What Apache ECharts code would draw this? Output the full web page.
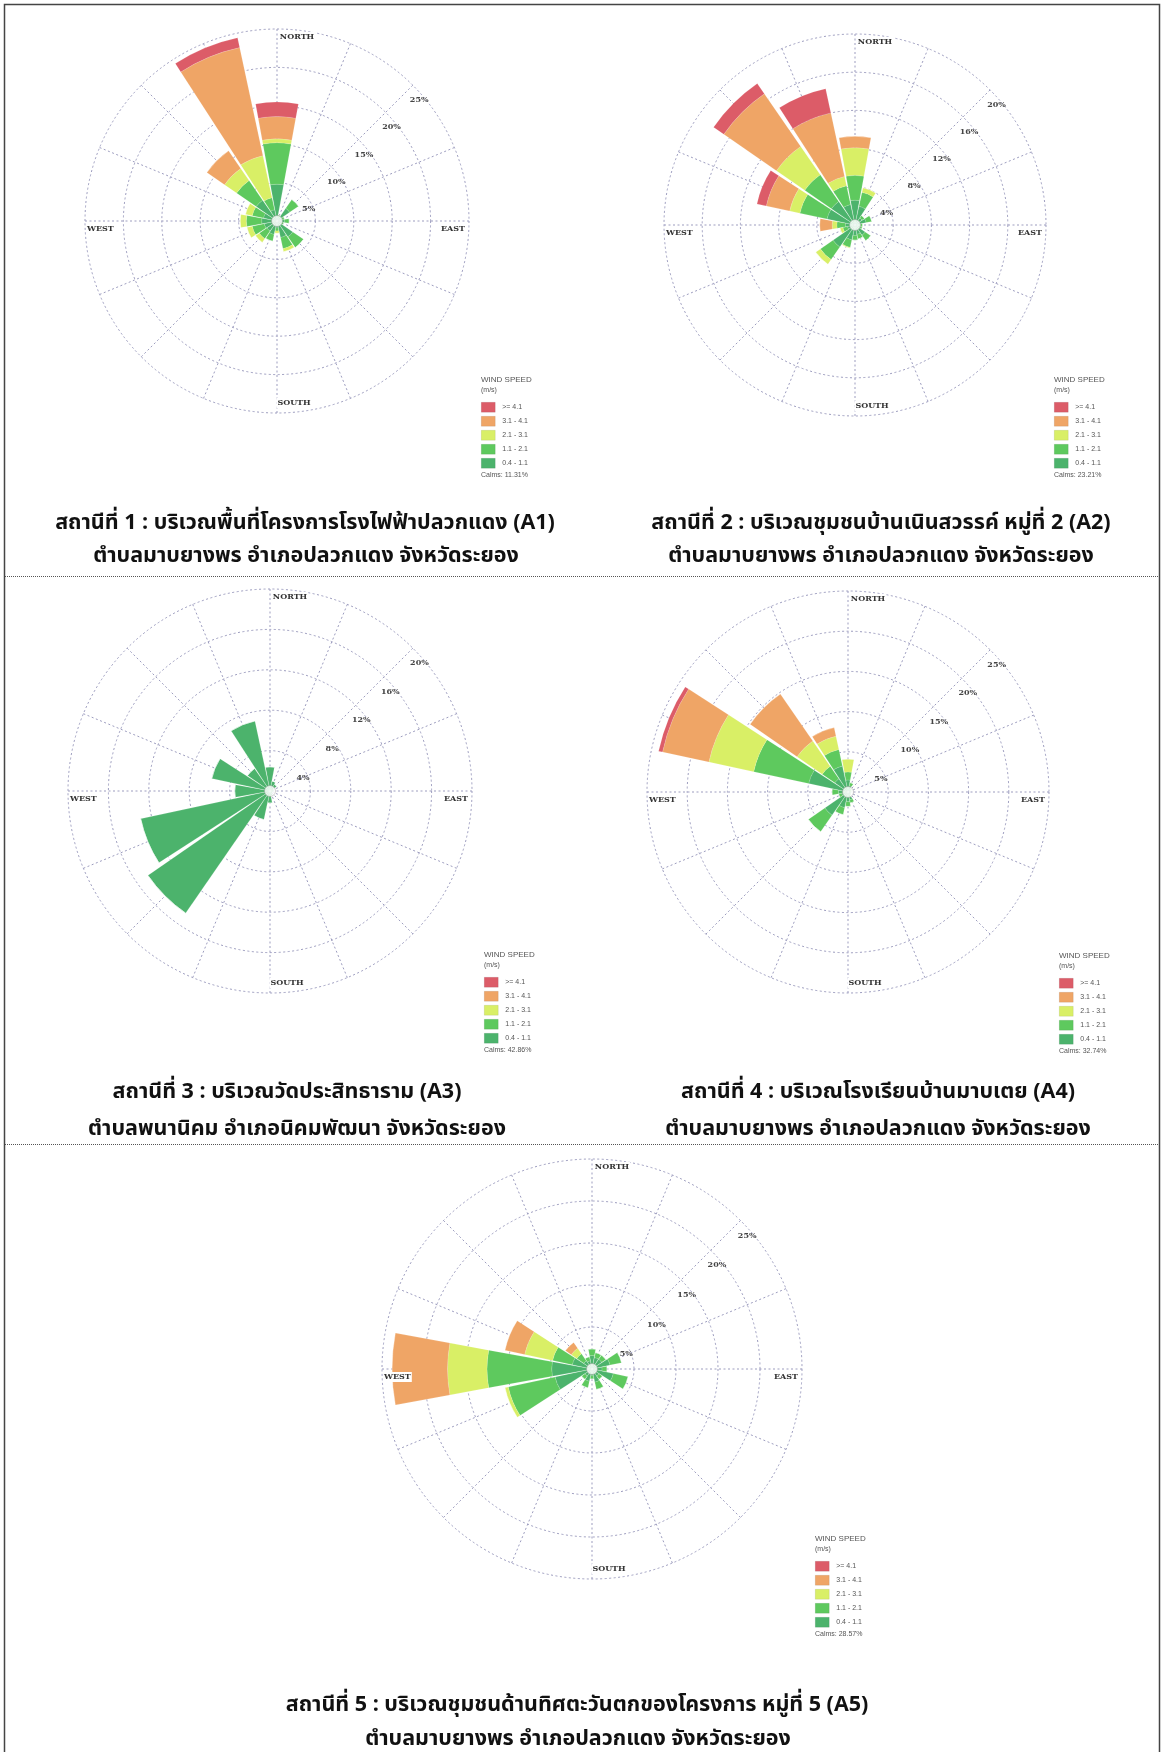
<!DOCTYPE html>
<html>
<head>
<meta charset="utf-8">
<script src="https://cdn.jsdelivr.net/npm/echarts@6/dist/echarts.min.js"></script>
<style>
  html, body { margin: 0; padding: 0; background: #ffffff; }
  #chart { width: 1164px; height: 1752px; }
</style>
</head>
<body>
<div id="chart"></div>
<script>
// Wind directions, clockwise from north
const directions = ['N','NNE','NE','ENE','E','ESE','SE','SSE','S','SSW','SW','WSW','W','WNW','NW','NNW'];

// Wind speed classes (m/s), innermost first
const speedClasses = ['0.4 - 1.1', '1.1 - 2.1', '2.1 - 3.1', '3.1 - 4.1', '>= 4.1'];
const legendOrder = ['>= 4.1', '3.1 - 4.1', '2.1 - 3.1', '1.1 - 2.1', '0.4 - 1.1'];
const speedColors = ['#4cb36c', '#5ec95e', '#d9ef66', '#efa566', '#dc5c68'];

// Frequency (%) per direction, one array per speed class
// Station A1
const a1_04_11 = [4.8, 0.6, 2.0, 0.7, 1.0, 0.6, 2.5, 2.2, 0.9, 1.8, 1.6, 1.7, 2.0, 1.8, 3.3, 1.5];
const a1_11_21 = [5.4, 0.2, 1.4, 0.3, 0.6, 0.3, 1.7, 1.5, 0.4, 0.9, 1.2, 1.6, 2.0, 1.5, 3.1, 1.6];
const a1_21_31 = [0.5, 0, 0, 0, 0, 0, 0, 0.4, 0.3, 0, 0.6, 0.7, 0.8, 0.9, 1.9, 5.6];
const a1_31_41 = [2.9, 0, 0, 0, 0, 0, 0, 0, 0, 0, 0, 0, 0, 0, 2.8, 14.4];
const a1_41 = [1.9, 0, 0, 0, 0, 0, 0, 0, 0, 0, 0, 0, 0, 0, 0, 1.3];

// Station A2
const a2_04_11 = [2.6, 2.0, 0.9, 1.2, 0.6, 0.6, 1.3, 1.0, 1.1, 1.6, 2.8, 0.8, 1.0, 3.0, 3.0, 2.2];
const a2_11_21 = [2.6, 1.5, 0.3, 0.6, 0.2, 0.2, 0.7, 0.5, 0.5, 0.8, 1.6, 0.5, 0.9, 2.9, 3.4, 2.0];
const a2_21_31 = [2.9, 0.5, 0, 0, 0, 0, 0, 0, 0, 0.1, 0.6, 0.3, 0.5, 1.1, 3.6, 1.0];
const a2_31_41 = [1.2, 0, 0, 0, 0, 0, 0, 0, 0, 0, 0, 0, 1.3, 2.5, 6.7, 6.8];
const a2_41 = [0, 0, 0, 0, 0, 0, 0, 0, 0, 0, 0, 0, 0, 1.0, 1.3, 2.6];

// Station A3
const a3_04_11 = [2.4, 1.0, 0.8, 0.4, 0.4, 0.3, 0.3, 0.5, 1.2, 2.9, 14.7, 13.1, 3.5, 5.9, 2.7, 7.1];
const a3_11_21 = [0, 0, 0, 0, 0, 0, 0, 0, 0, 0, 0, 0, 0, 0, 0, 0];
const a3_21_31 = [0, 0, 0, 0, 0, 0, 0, 0, 0, 0, 0, 0, 0, 0, 0, 0];
const a3_31_41 = [0, 0, 0, 0, 0, 0, 0, 0, 0, 0, 0, 0, 0, 0, 0, 0];
const a3_41 = [0, 0, 0, 0, 0, 0, 0, 0, 0, 0, 0, 0, 0, 0, 0, 0];

// Station A4
const a4_04_11 = [1.5, 0.8, 0.4, 0.3, 0.3, 0.3, 0.4, 1.0, 1.2, 2.0, 3.5, 0.8, 1.2, 5.0, 2.0, 3.3];
const a4_11_21 = [1.0, 0.4, 0.2, 0.2, 0.1, 0.1, 0.1, 0.4, 0.6, 0.9, 2.5, 0.4, 0.8, 7.0, 1.9, 2.1];
const a4_21_31 = [1.6, 0, 0, 0, 0, 0, 0, 0, 0, 0, 0, 0, 0, 5.7, 3.8, 1.7];
const a4_31_41 = [0, 0, 0, 0, 0, 0, 0, 0, 0, 0, 0, 0, 0, 5.9, 7.1, 1.1];
const a4_41 = [0, 0, 0, 0, 0, 0, 0, 0, 0, 0, 0, 0, 0, 0.5, 0, 0];

// Station A5
const a5_04_11 = [1.6, 1.4, 1.4, 2.2, 1.2, 2.6, 1.0, 1.6, 0.8, 1.5, 1.0, 4.5, 4.8, 2.4, 1.2, 1.0];
const a5_11_21 = [0.8, 0.6, 0.6, 1.4, 0.6, 1.8, 0.5, 0.9, 0.4, 0.8, 0.5, 5.7, 7.7, 2.4, 1.0, 0.5];
const a5_21_31 = [0, 0, 0, 0, 0, 0, 0, 0, 0, 0, 0, 0.4, 4.7, 3.4, 0.8, 0];
const a5_31_41 = [0, 0, 0, 0, 0, 0, 0, 0, 0, 0, 0, 0, 6.6, 2.4, 0.85, 0];
const a5_41 = [0, 0, 0, 0, 0, 0, 0, 0, 0, 0, 0, 0, 0, 0, 0, 0];

// Calm percentages
const calms = ['11.31%', '23.21%', '42.86%', '32.74%', '28.57%'];

// Ring tick labels
const ticks5 = ['5%', '10%', '15%', '20%', '25%'];
const ticks4 = ['4%', '8%', '12%', '16%', '20%'];

// Station captions
const captionLine1 = [
  'สถานีที่ 1 : บริเวณพื้นที่โครงการโรงไฟฟ้าปลวกแดง (A1)',
  'สถานีที่ 2 : บริเวณชุมชนบ้านเนินสวรรค์ หมู่ที่ 2 (A2)',
  'สถานีที่ 3 : บริเวณวัดประสิทธาราม (A3)',
  'สถานีที่ 4 : บริเวณโรงเรียนบ้านมาบเตย (A4)',
  'สถานีที่ 5 : บริเวณชุมชนด้านทิศตะวันตกของโครงการ หมู่ที่ 5 (A5)'
];
const captionLine2 = [
  'ตำบลมาบยางพร อำเภอปลวกแดง จังหวัดระยอง',
  'ตำบลมาบยางพร อำเภอปลวกแดง จังหวัดระยอง',
  'ตำบลพนานิคม อำเภอนิคมพัฒนา จังหวัดระยอง',
  'ตำบลมาบยางพร อำเภอปลวกแดง จังหวัดระยอง',
  'ตำบลมาบยางพร อำเภอปลวกแดง จังหวัดระยอง'
];
const cardinalNames = ['NORTH', 'SOUTH', 'WEST', 'EAST'];

// Layout of each rose: centre, outer radius, legend anchor, caption placement
const stations = [
  { series: [a1_04_11, a1_11_21, a1_21_31, a1_31_41, a1_41], max: 25, step: 5, ticks: ticks5,
    center: [277, 221], R: 192, legend: [481, 380], cap1: [305, 525], cap2: [306, 558] },
  { series: [a2_04_11, a2_11_21, a2_21_31, a2_31_41, a2_41], max: 20, step: 4, ticks: ticks4,
    center: [855, 225], R: 191, legend: [1054, 380], cap1: [881, 525], cap2: [881, 558] },
  { series: [a3_04_11, a3_11_21, a3_21_31, a3_31_41, a3_41], max: 20, step: 4, ticks: ticks4,
    center: [270, 791], R: 202, legend: [484, 955], cap1: [287, 1094], cap2: [297, 1131] },
  { series: [a4_04_11, a4_11_21, a4_21_31, a4_31_41, a4_41], max: 25, step: 5, ticks: ticks5,
    center: [848, 792], R: 201, legend: [1059, 956], cap1: [878, 1094], cap2: [878, 1131] },
  { series: [a5_04_11, a5_11_21, a5_21_31, a5_31_41, a5_41], max: 25, step: 5, ticks: ticks5,
    center: [592, 1369], R: 210, legend: [815, 1539], cap1: [577, 1707], cap2: [578, 1741] }
];

const gridColor = '#9d9dbf';
const gridDash = [2, 2.5];
const serifFont = '"DejaVu Serif", serif';
const sansFont = '"Liberation Sans", Arial, sans-serif';
const thaiFont = '"Noto Sans Thai", "Noto Sans Thai UI", "Noto Sans", Tahoma, sans-serif';

const polar = [], angleAxis = [], radiusAxis = [], series = [], legend = [], graphic = [];

function txt(x, y, text, size, opts) {
  const o = opts || {};
  return {
    type: 'text', x: x, y: y, z: o.z || 20, silent: true,
    style: {
      text: text,
      fill: o.color || '#444',
      fontSize: size,
      fontWeight: o.weight || 'normal',
      fontFamily: o.family || sansFont,
      align: o.align || 'left',
      verticalAlign: o.valign || 'middle',
      textAlign: o.align || 'left',
      textVerticalAlign: o.valign || 'middle',
      backgroundColor: o.bg,
      padding: o.pad
    }
  };
}

const hidden = { axisLine: { show: false }, axisTick: { show: false }, axisLabel: { show: false } };

stations.forEach(function (s, i) {
  const cx = s.center[0], cy = s.center[1], R = s.R;
  const barPolar = 2 * i, gridPolar = 2 * i + 1;

  // polar for the petals: one band of 22.5° per direction, centred on the direction
  polar.push({ center: s.center, radius: R, z: 3 });
  angleAxis.push(Object.assign({
    polarIndex: barPolar, type: 'category', data: directions,
    startAngle: 90 + 360 / directions.length / 2, clockwise: true, boundaryGap: true,
    splitLine: { show: false }
  }, hidden));
  radiusAxis.push(Object.assign({
    polarIndex: barPolar, type: 'value', min: 0, max: s.max, splitLine: { show: false }
  }, hidden));

  // polar for the dashed grid: spokes through each direction and rings per tick
  polar.push({ center: s.center, radius: R, z: 0 });
  angleAxis.push(Object.assign({
    polarIndex: gridPolar, type: 'value', min: 0, max: 360, interval: 360 / directions.length,
    startAngle: 90, clockwise: true, z: 0,
    splitLine: { show: true, lineStyle: { color: gridColor, type: gridDash, width: 1 } }
  }, hidden));
  radiusAxis.push(Object.assign({
    polarIndex: gridPolar, type: 'value', min: 0, max: s.max, interval: s.step, z: 0,
    splitLine: { show: true, lineStyle: { color: gridColor, type: gridDash, width: 1 } }
  }, hidden));

  s.series.forEach(function (vals, k) {
    series.push({
      type: 'bar', coordinateSystem: 'polar', polarIndex: barPolar, name: speedClasses[k],
      stack: 'rose' + i, data: vals, barCategoryGap: '8%', silent: true, z: 3,
      itemStyle: { color: speedColors[k], borderColor: 'rgba(255,255,255,0.25)', borderWidth: 0.5 }
    });
  });
  // calm circle at the centre of the rose
  series.push({
    type: 'scatter', coordinateSystem: 'polar', polarIndex: barPolar, data: [[0, 0]],
    symbol: 'circle', symbolSize: 11, silent: true, z: 6,
    itemStyle: { color: '#ffffff', borderColor: '#9a9a9a', borderWidth: 0.6 }
  });

  // ring labels along the north-east diagonal
  s.ticks.forEach(function (t, j) {
    const r = (j + 1) * s.step / s.max * R;
    graphic.push(txt(cx + r * 0.72 + 4, cy - r * 0.707 + 15, t, 8,
      { align: 'center', weight: 'bold', family: serifFont, color: '#444' }));
  });
  // compass labels
  const cOpts = { weight: 'bold', family: serifFont, color: '#333', bg: '#ffffff', pad: [1, 1] };
  graphic.push(txt(cx + 20, cy - R + 8, cardinalNames[0], 8, Object.assign({ align: 'center' }, cOpts)));
  graphic.push(txt(cx + 17, cy + R - 10, cardinalNames[1], 8, Object.assign({ align: 'center' }, cOpts)));
  graphic.push(txt(cx - R + 1, cy + 8, cardinalNames[2], 8, Object.assign({ align: 'left' }, cOpts)));
  graphic.push(txt(cx + R - 3, cy + 8, cardinalNames[3], 8, Object.assign({ align: 'right' }, cOpts)));

  // legend block
  const lx = s.legend[0], ly = s.legend[1];
  graphic.push(txt(lx, ly, 'WIND SPEED', 8, { color: '#555' }));
  graphic.push(txt(lx, ly + 10, '(m/s)', 7, { color: '#555' }));
  graphic.push(txt(lx, ly + 95, 'Calms: ' + calms[i], 7, { color: '#555' }));
  legend.push({
    left: lx, top: ly + 22, orient: 'vertical', padding: 0,
    data: legendOrder, icon: 'rect', itemWidth: 14, itemHeight: 10, itemGap: 3.5,
    selectedMode: false,
    itemStyle: { borderColor: 'rgba(0,0,0,0.15)', borderWidth: 0.5 },
    textStyle: { fontSize: 7, color: '#555', fontFamily: sansFont, padding: [0, 0, 0, 2] }
  });

  // captions
  graphic.push(txt(s.cap1[0], s.cap1[1], captionLine1[i], 21.5,
    { align: 'center', weight: 'bold', family: thaiFont, color: '#111' }));
  graphic.push(txt(s.cap2[0], s.cap2[1], captionLine2[i], 21.5,
    { align: 'center', weight: 'bold', family: thaiFont, color: '#111' }));
});

// page frame and section separators
graphic.push({
  type: 'rect', z: 30, silent: true,
  shape: { x: 4.5, y: 4.5, width: 1155, height: 1800 },
  style: { fill: 'none', stroke: '#444', lineWidth: 1.5 }
});
[576.5, 1144.5].forEach(function (y) {
  graphic.push({
    type: 'line', z: 30, silent: true,
    shape: { x1: 5, y1: y, x2: 1159, y2: y },
    style: { stroke: '#555', lineWidth: 1, lineDash: [1, 1] }
  });
});

const chart = echarts.init(document.getElementById('chart'), null, { renderer: 'canvas' });
chart.setOption({
  animation: false,
  backgroundColor: '#ffffff',
  polar: polar,
  angleAxis: angleAxis,
  radiusAxis: radiusAxis,
  legend: legend,
  series: series,
  graphic: graphic
});
</script>
</body>
</html>
